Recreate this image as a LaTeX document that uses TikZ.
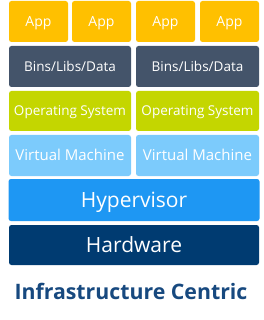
\documentclass[tikz,border=0pt]{standalone}
\usepackage{fontspec}
\setmainfont{Open Sans}
\usepackage{xcolor}
\usepackage{tikz}
\definecolor{appcol}{HTML}{FFC000}
\definecolor{bincol}{HTML}{44546A}
\definecolor{oscol}{HTML}{C4D600}
\definecolor{vmcol}{HTML}{7CCBFC}
\definecolor{hypcol}{HTML}{1E97F3}
\definecolor{hwcol}{HTML}{003B71}
\definecolor{titlecol}{HTML}{17497F}

\begin{document}
\begin{tikzpicture}[x=1pt,y=-1pt,
layer/.style={rectangle,rounded corners=2.5pt,draw=none,text=white,inner sep=0pt,text depth=0pt},
small/.style={layer,font=\fontsize{#1}{16}\selectfont,text height=#1*0.714pt},
big/.style={layer,font=\fontsize{21}{24}\selectfont,text height=15pt}]
\useasboundingbox(0,0)rectangle(264,320);
% apps
\node[small=14,fill=appcol,minimum width=59pt,minimum height=41pt](app1)at(38.5,21.5){App};
\node[small=14,fill=appcol,minimum width=59pt,minimum height=41pt](app2)at(101.5,21.5){App};
\node[small=14,fill=appcol,minimum width=59pt,minimum height=41pt](app3)at(165.5,21.5){App};
\node[small=14,fill=appcol,minimum width=59pt,minimum height=41pt](app4)at(229.5,21.5){App};
% bins/libs
\node[small=13.5,fill=bincol,minimum width=122pt,minimum height=41pt](bin1)at(70,66.5){Bins/Libs/Data};
\node[small=13.5,fill=bincol,minimum width=123pt,minimum height=41pt](bin2)at(197.5,66.5){Bins/Libs/Data};
% guest os
\node[small=13.5,fill=oscol,minimum width=122pt,minimum height=40pt](os1)at(70,111){Operating System};
\node[small=13.5,fill=oscol,minimum width=123pt,minimum height=40pt](os2)at(197.5,111){Operating System};
% vms
\node[small=15,fill=vmcol,minimum width=122pt,minimum height=41pt](vm1)at(70,155.5){Virtual Machine};
\node[small=15,fill=vmcol,minimum width=123pt,minimum height=41pt](vm2)at(197.5,155.5){Virtual Machine};
% hypervisor and hardware
\node[big,fill=hypcol,minimum width=251pt,minimum height=42pt](hyp)at(134,200){Hypervisor};
\node[big,fill=hwcol,minimum width=250pt,minimum height=40pt](hw)at(134,245){Hardware};
\node[text=titlecol,font=\fontsize{21.3}{24}\selectfont\bfseries,inner sep=0pt,anchor=base](title)at(131,299){Infrastructure Centric};
\end{tikzpicture}
\end{document}
